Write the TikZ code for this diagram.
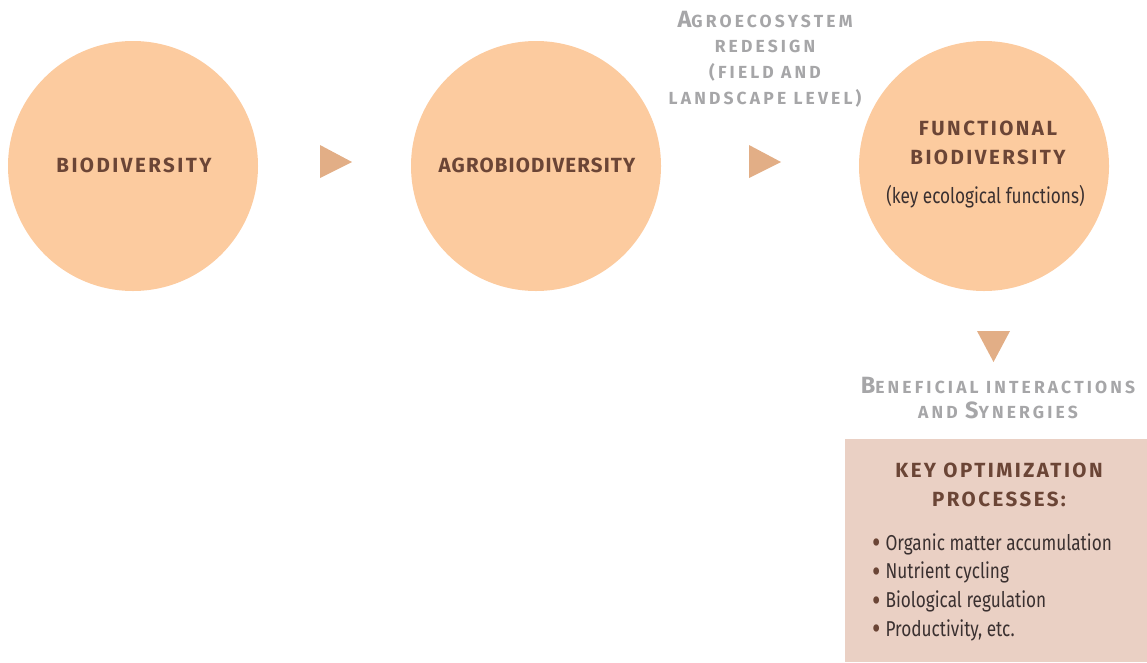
\documentclass[tikz,border=0pt]{standalone}
\usepackage{fontspec}
\setmainfont{Fira Sans}
\newfontfamily\fbody[FakeStretch=0.80]{Fira Sans}
\newfontfamily\fhead[LetterSpace=12]{Fira Sans}
\newfontfamily\fheadA[LetterSpace=5.5]{Fira Sans}
\newfontfamily\fgray[LetterSpace=18]{Fira Sans}
\definecolor{peach}{HTML}{FCCB9F}
\definecolor{tricol}{HTML}{E2AE86}
\definecolor{brown}{HTML}{6B4536}
\definecolor{graytxt}{HTML}{A6A6A8}
\definecolor{boxfill}{HTML}{EAD0C4}
\definecolor{bodytxt}{HTML}{3A3030}
\newcommand\capbig[1]{{\fontsize{23.5}{26}\selectfont #1}}
\newcommand\bul{\smash{\raisebox{-3.6pt}{\scalebox{1.5}{\color{brown}•}}}\hspace{5pt}}
\begin{document}
\begin{tikzpicture}[x=1pt,y=-1pt,
  circ/.style={circle,fill=peach,minimum size=250pt,inner sep=0pt},
  head/.style={text=brown,font=\fhead\bfseries\fontsize{20.5}{29.5}\selectfont,align=center,inner sep=0pt},
  headA/.style={head,font=\fheadA\bfseries\fontsize{20.5}{29.5}\selectfont},
  graylab/.style={text=graytxt,font=\fgray\bfseries\fontsize{17.5}{25.7}\selectfont,align=center,inner sep=0pt},
  bodylab/.style={text=bodytxt,font=\fbody\fontsize{21.5}{28.7}\selectfont,inner sep=0pt},
  arrowtri/.style={fill=tricol}]
\useasboundingbox (0,0) rectangle (1147,662);
\node[circ] (c1) at (133,166) {};
\node[circ] (c2) at (536,166) {};
\node[circ] (c3) at (984,166) {};
\node[head] (l1) at (134,165) {BIODIVERSITY};
\node[headA] (l2) at (537,165) {AGROBIODIVERSITY};
\node[head] (l3) at (988,143) {FUNCTIONAL\\BIODIVERSITY};
\node[bodylab] (l3b) at (985.5,197) {(key ecological functions)};
\fill[arrowtri] (320,145) -- (352,162) -- (320,178) -- cycle;
\fill[arrowtri] (749,145) -- (781,162) -- (749,178) -- cycle;
\fill[arrowtri] (977,331) -- (1010,331) -- (993.5,362) -- cycle;
\node[graylab] (redesign) at (765,59) {\capbig{A}GROECOSYSTEM\\REDESIGN\\(FIELD AND\\LANDSCAPE LEVEL)};
\node[graylab] (benef) at (998,398) {\capbig{B}ENEFICIAL INTERACTIONS\\AND \capbig{S}YNERGIES};
\fill[boxfill] (845,439) rectangle (1147,662);
\node[head] (kop) at (999,485) {KEY OPTIMIZATION\\PROCESSES:};
\node[bodylab,anchor=west,align=left] (list) at (872,587) {\bul Organic matter accumulation\\\bul Nutrient cycling\\\bul Biological regulation\\\bul Productivity, etc.};
\end{tikzpicture}
\end{document}
